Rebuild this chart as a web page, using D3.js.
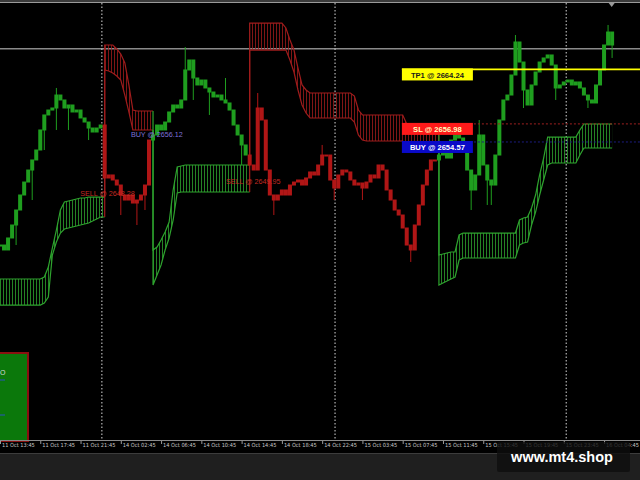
<!DOCTYPE html>
<html><head><meta charset="utf-8">
<script src="https://cdn.jsdelivr.net/npm/d3@7"></script>
<style>html,body{margin:0;padding:0;background:#1f1f1f;overflow:hidden}</style>
</head><body><svg id="c" width="640" height="480"></svg>
<script>
// ---------- DATA ----------
const closes = [
2640.83,2640.17,2641.77,2643.50,2645.50,2647.50,2649.23,2650.83,2652.17,2653.50,
2656.17,2658.17,2658.83,2659.10,2660.83,2660.17,2659.10,2659.50,2658.57,2658.83,
2657.77,2657.23,2656.43,2655.90,2656.43,2656.83,2649.77,2650.17,2649.50,2648.83,
2647.50,2646.83,2647.50,2646.43,2646.83,2647.50,2648.83,2654.83,2655.50,2656.83,
2656.17,2657.23,2658.57,2659.50,2659.10,2660.17,2664.17,2665.50,2663.10,2662.17,
2662.83,2661.77,2661.23,2660.57,2660.83,2660.17,2659.77,2658.83,2656.83,2655.50,
2654.17,2652.83,2651.50,2650.83,2659.10,2657.50,2650.83,2647.50,2646.83,2647.50,
2648.17,2647.50,2648.83,2649.23,2649.50,2648.83,2649.77,2650.57,2650.17,2651.50,
2652.83,2652.83,2649.50,2648.43,2650.17,2650.83,2650.57,2649.50,2648.83,2649.10,
2648.43,2649.23,2650.17,2649.77,2651.50,2650.83,2648.17,2646.83,2645.50,2644.83,
2643.10,2640.83,2640.17,2643.50,2646.17,2648.83,2650.83,2652.17,2652.17,2652.83,
2653.50,2652.43,2654.83,2655.50,2655.10,2653.50,2650.83,2648.17,2650.17,2655.50,
2651.50,2649.50,2648.83,2652.83,2657.50,2660.17,2660.83,2663.50,2667.90,2665.23,
2661.50,2659.50,2662.17,2663.90,2665.23,2665.77,2666.17,2664.83,2661.77,2662.17,
2662.57,2662.83,2662.17,2662.57,2661.77,2660.83,2660.17,2659.77,2662.17,2664.17,
2667.50,2669.23,2667.50];

const bandHi = [
2636.30,2636.30,2636.30,2636.30,2636.30,2636.30,2636.30,2636.30,2636.30,2636.30,
2636.30,2636.57,2637.90,2640.43,2642.83,2645.50,2646.57,2646.70,2646.83,2646.97,
2647.10,2647.10,2647.23,2647.23,2647.23,2647.23,2667.50,2667.50,2667.50,2666.97,
2666.30,2665.10,2662.17,2658.83,2658.70,2658.70,2658.70,2658.70,2640.17,2640.57,
2641.50,2642.57,2643.90,2648.17,2651.23,2651.37,2651.50,2651.50,2651.50,2651.50,
2651.50,2651.50,2651.50,2651.50,2651.50,2651.50,2651.50,2651.50,2651.50,2651.50,
2651.50,2651.50,2670.43,2670.43,2670.43,2670.43,2670.43,2670.43,2670.43,2670.43,
2670.43,2669.77,2668.17,2666.83,2664.43,2662.17,2661.50,2661.10,2661.10,2661.10,
2661.10,2661.10,2661.10,2661.10,2661.10,2661.10,2661.10,2661.10,2660.70,2658.83,
2658.17,2658.17,2658.17,2658.17,2658.17,2658.17,2658.17,2658.17,2658.17,2658.17,
2658.17,2656.97,2656.97,2656.97,2656.97,2656.97,2656.97,2656.97,2656.97,2639.50,
2639.63,2639.77,2639.90,2639.90,2642.17,2642.43,2642.43,2642.43,2642.43,2642.43,
2642.43,2642.43,2642.43,2642.43,2642.43,2642.43,2642.43,2642.43,2642.43,2644.17,
2644.43,2644.57,2645.77,2647.50,2650.17,2652.43,2655.23,2655.23,2655.23,2655.23,
2655.23,2655.23,2655.23,2655.23,2656.17,2656.97,2656.97,2656.97,2656.97,2656.97,
2656.97,2656.97,2656.97];

const bandLo = [
2632.83,2632.83,2632.83,2632.83,2632.83,2632.83,2632.83,2632.83,2632.83,2632.83,
2632.83,2633.10,2633.90,2639.50,2641.23,2642.43,2642.97,2643.10,2643.23,2643.37,
2643.50,2643.63,2643.77,2644.03,2644.30,2644.57,2664.17,2664.03,2663.77,2663.37,
2662.83,2660.83,2658.57,2656.17,2656.17,2656.17,2656.17,2656.17,2635.50,2636.83,
2638.17,2640.17,2641.77,2644.17,2647.77,2647.90,2647.90,2647.90,2647.90,2647.90,
2647.90,2647.90,2647.90,2647.90,2647.90,2647.90,2647.90,2647.90,2647.90,2647.90,
2647.90,2647.90,2666.83,2666.83,2666.83,2666.83,2666.83,2666.83,2666.83,2666.83,
2666.83,2666.83,2665.50,2663.90,2661.50,2659.50,2658.43,2657.77,2657.77,2657.77,
2657.77,2657.77,2657.77,2657.77,2657.77,2657.77,2657.77,2657.77,2657.23,2655.50,
2654.83,2654.70,2654.70,2654.70,2654.70,2654.70,2654.70,2654.70,2654.70,2654.70,
2654.70,2653.50,2653.50,2653.50,2653.50,2653.50,2653.50,2653.50,2653.50,2635.50,
2635.77,2636.03,2636.30,2636.57,2638.83,2639.10,2639.10,2639.10,2639.10,2639.10,
2639.10,2639.10,2639.10,2639.10,2639.10,2639.10,2639.10,2639.10,2639.10,2640.83,
2641.10,2641.23,2643.50,2645.23,2647.50,2649.50,2651.50,2651.77,2651.77,2651.77,
2651.77,2651.77,2651.77,2651.77,2652.83,2653.77,2653.77,2653.77,2653.77,2653.77,
2653.77,2653.77,2653.77];

const trendStarts = [0, 26, 38, 62, 109];
const trendDirs   = [1, -1, 1, -1, 1];

const wickBars = [4,8,11,14,14,17,22,30,34,36,46,48,52,56,60,64,68,80,83,90,102,117,119,121,122,128,130,138,146,151,152];
const wickEnds = [2640.83,2646.83,2653.50,2661.77,2656.17,2656.17,2654.83,2644.83,2643.50,2645.50,2667.23,2660.17,2658.17,2663.10,2651.50,2661.10,2644.83,2654.17,2646.83,2646.83,2638.57,2645.50,2657.50,2646.17,2646.17,2668.83,2659.10,2660.17,2659.10,2670.17,2665.77];

const timeLabels = ["11 Oct 13:45","11 Oct 17:45","11 Oct 21:45","14 Oct 02:45","14 Oct 06:45","14 Oct 10:45","14 Oct 14:45","14 Oct 18:45","14 Oct 22:45","15 Oct 03:45","15 Oct 07:45","15 Oct 11:45","15 Oct 15:45","15 Oct 19:45","15 Oct 23:45","16 Oct 04:45"];
const labelBars = [0,10,20,30,40,50,60,70,80,90,100,110,120,130,140,150];
const separatorBars = [25.3, 83.2, 140.6];

const levelNames  = ["TP1","SL","BUY"];
const levelPrices = [2664.24, 2656.98, 2654.57];
const levelStartBar = 99.8;

const tradeTexts  = ["BUY @ 2656.12","SELL @ 2648.28","SELL @ 2649.95"];
const tradePrices = [2656.12, 2648.28, 2649.95];
const tradeBars   = [32.5, 19.9, 56.1];

const currentPrice = 2667.0;

// ---------- DRAW ----------
const W = 640, H = 480;
const svg = d3.select('#c');
const x = d3.scaleLinear().domain([0, 10]).range([0, 40.27]);
const y = d3.scaleLinear().domain([2615.2, 2673.5]).range([437.25, 0]);
const G = '#1f9e1f', R = '#b01616', GB = '#2ea32e', RB = '#a01c1c';

svg.append('rect').attr('width', W).attr('height', H).attr('fill', '#1f1f1f');
svg.append('rect').attr('x', 0).attr('y', 3).attr('width', W).attr('height', 450).attr('fill', '#000');
svg.append('rect').attr('x', 0).attr('y', 0).attr('width', W).attr('height', 2).attr('fill', '#3a3a3a');
svg.append('line').attr('x1', 0).attr('x2', W).attr('y1', 2.5).attr('y2', 2.5).attr('stroke', '#9a9a9a').attr('stroke-width', 1);
svg.append('line').attr('x1', 0).attr('x2', W).attr('y1', 453.5).attr('y2', 453.5).attr('stroke', '#3c3c3c').attr('stroke-width', 1);

const defs = svg.append('defs');
function hatch(id, color) {
  const p = defs.append('pattern').attr('id', id).attr('patternUnits', 'userSpaceOnUse')
    .attr('width', 3).attr('height', 8);
  p.append('line').attr('x1', 0.5).attr('x2', 0.5).attr('y1', 0).attr('y2', 8)
    .attr('stroke', color).attr('stroke-width', 0.8);
}
hatch('hG', GB); hatch('hR', RB);

// current price line
svg.append('line').attr('x1', 0).attr('x2', W).attr('y1', y(currentPrice)).attr('y2', y(currentPrice))
  .attr('stroke', '#8a8a8a').attr('stroke-width', 1.6);

// separators
svg.selectAll('line.sep').data(separatorBars).join('line').attr('class', 'sep')
  .attr('x1', d => x(d)).attr('x2', d => x(d)).attr('y1', 3).attr('y2', 440)
  .attr('stroke', '#d8d8d8').attr('stroke-width', 1).attr('stroke-dasharray', '1.5,2');

// bands
const last = closes.length - 1;
trendStarts.forEach((s, k) => {
  const e = k < trendStarts.length - 1 ? trendStarts[k + 1] - 1 : last;
  const col = trendDirs[k] > 0 ? GB : RB;
  const pts = d3.range(s, e + 1).map(i => ({ x: x(i), hi: bandHi[i], lo: bandLo[i] }));
  if (e < last) pts.push({ x: x(e + 1), hi: bandHi[e], lo: bandLo[e] });
  svg.append('path').datum(pts)
    .attr('d', d3.area().x(d => d.x).y0(d => y(d.lo)).y1(d => y(d.hi)))
    .attr('fill', trendDirs[k] > 0 ? 'url(#hG)' : 'url(#hR)');
  ['hi', 'lo'].forEach(key => {
    const arr = key === 'hi' ? bandHi : bandLo;
    const lp = pts.map(d => [d.x, y(d[key])]);
    if (s > 0) lp.unshift([x(s), y(arr[s - 1])]);
    svg.append('path').attr('d', d3.line()(lp)).attr('fill', 'none')
      .attr('stroke', col).attr('stroke-width', 1.2);
  });
});

function dirAt(i) {
  let d = 1;
  trendStarts.forEach((s, k) => { if (i >= s) d = trendDirs[k]; });
  return d;
}

// wicks
svg.selectAll('line.wick').data(wickBars).join('line').attr('class', 'wick')
  .attr('x1', d => x(d)).attr('x2', d => x(d))
  .attr('y1', d => y(closes[d])).attr('y2', (d, j) => y(wickEnds[j]))
  .attr('stroke', d => dirAt(d) > 0 ? G : R).attr('stroke-width', 1);

// candles: body from previous close to close
svg.selectAll('rect.c').data(closes).join('rect').attr('class', 'c')
  .attr('x', (d, i) => x(i) - 2).attr('width', 4)
  .attr('y', (d, i) => Math.min(y(d), y(i ? closes[i - 1] : d)) - 0.5)
  .attr('height', (d, i) => Math.max(2, Math.abs(y(d) - y(i ? closes[i - 1] : d)) + 1))
  .attr('fill', (d, i) => dirAt(i) > 0 ? G : R);

// trade annotations
const tradeCols = ['#7d72d8', '#c42a22', '#c42a22'];
svg.selectAll('text.tr').data(tradeTexts).join('text').attr('class', 'tr')
  .attr('x', (d, j) => x(tradeBars[j])).attr('y', (d, j) => y(tradePrices[j]) + 7)
  .attr('fill', (d, j) => tradeCols[j]).attr('font-family', 'Liberation Sans, Arial, sans-serif')
  .attr('font-size', 7.2).text(d => d);

// level lines & labels
const lvlLine = ['#ffff00', '#a02020', '#1c1c80'];
const lvlBox = ['#ffff00', '#ff1a1a', '#0a0ac8'];
const lvlText = ['#1a1a1a', '#ffffc0', '#ffffff'];
const lx0 = x(levelStartBar);
levelPrices.forEach((p, j) => {
  const ly = y(p);
  svg.append('line').attr('x1', lx0).attr('x2', W).attr('y1', ly).attr('y2', ly)
    .attr('stroke', lvlLine[j]).attr('stroke-width', j === 0 ? 1.8 : 1)
    .attr('stroke-dasharray', j === 0 ? null : '2,2');
  svg.append('rect').attr('x', lx0).attr('y', ly - 1).attr('width', 71).attr('height', 12)
    .attr('fill', lvlBox[j]);
  svg.append('text').attr('x', lx0 + 35.5).attr('y', ly + 8.3).attr('text-anchor', 'middle')
    .attr('fill', lvlText[j]).attr('font-family', 'Liberation Sans, Arial, sans-serif')
    .attr('font-weight', 'bold').attr('font-size', 7.6)
    .text(levelNames[j] + ' @ ' + p.toFixed(2));
});

// chart shift marker
svg.append('path').attr('d', `M${x(151.9) - 3},3 L${x(151.9) + 3},3 L${x(151.9)},7 Z`).attr('fill', '#9a9a9a');

// bottom-left panel
svg.append('rect').attr('x', -2).attr('y', 353).attr('width', 30).attr('height', 88)
  .attr('fill', '#0b780b').attr('stroke', '#8a1010').attr('stroke-width', 2);
svg.append('text').attr('x', 0).attr('y', 375).attr('fill', '#d8d8d8').attr('font-size', 7)
  .attr('font-family', 'Liberation Sans, Arial, sans-serif').text('O');
svg.append('line').attr('x1', 0).attr('x2', 5).attr('y1', 380).attr('y2', 380).attr('stroke', '#2a50c0');
svg.append('line').attr('x1', 0).attr('x2', 5).attr('y1', 415).attr('y2', 415).attr('stroke', '#2a50c0');

// x axis
svg.append('line').attr('x1', 0).attr('x2', W).attr('y1', 440.5).attr('y2', 440.5).attr('stroke', '#8a8a8a');
const axis = d3.axisBottom(x).tickValues(labelBars).tickSize(3)
  .tickFormat((d, j) => timeLabels[j]);
const ax = svg.append('g').attr('transform', 'translate(0,441)').call(axis);
ax.select('.domain').remove();
ax.selectAll('.tick line').attr('stroke', '#9a9a9a');
ax.selectAll('.tick text').attr('text-anchor', 'start').attr('x', 1.5).attr('y', 2.5)
  .attr('fill', '#c8c8c8').attr('font-size', 5.6)
  .attr('font-family', 'Liberation Sans Narrow, DejaVu Sans Condensed, Arial, sans-serif');

// watermark
svg.append('rect').attr('x', 497).attr('y', 442).attr('width', 133).attr('height', 30).attr('rx', 2)
  .attr('fill', 'rgba(14,14,14,0.8)');
svg.append('text').attr('x', 562).attr('y', 462).attr('text-anchor', 'middle').attr('fill', '#ffffff')
  .attr('font-family', 'Liberation Sans, Arial, sans-serif').attr('font-weight', 'bold')
  .attr('font-size', 14.5).text('www.mt4.shop');
</script></body></html>
